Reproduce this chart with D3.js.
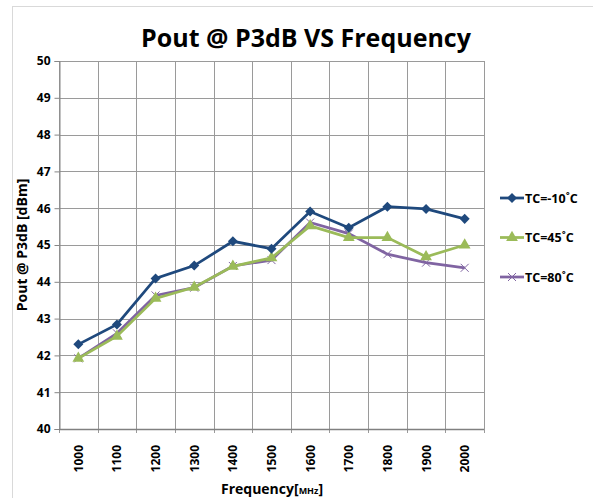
<!DOCTYPE html>
<html>
<head>
<meta charset="utf-8">
<script src="https://cdn.jsdelivr.net/npm/d3@7"></script>
<style>
  body { margin: 0; background: #fff; }
  text { font-family: "Open Sans", "Noto Sans", sans-serif; font-weight: bold; fill: #000; }
</style>
</head>
<body>
<div id="chart"></div>
<script>
// data
var freqs = ["1000", "1100", "1200", "1300", "1400", "1500", "1600", "1700", "1800", "1900", "2000"]
var tcMinus10 = [42.30, 42.84, 44.09, 44.44, 45.10, 44.90, 45.91, 45.47, 46.04, 45.98, 45.71]
var tc45 = [41.92, 42.52, 43.55, 43.85, 44.42, 44.65, 45.52, 45.20, 45.20, 44.68, 45.00]
var tc80 = [41.92, 42.60, 43.63, 43.84, 44.43, 44.59, 45.61, 45.31, 44.75, 44.52, 44.38]
var yTicks = [40, 41, 42, 43, 44, 45, 46, 47, 48, 49, 50]

var series = [
    {name: "TC=-10˚C", values: tcMinus10, color: "#1f497d", marker: "diamond"},
    {name: "TC=45˚C", values: tc45, color: "#9bbb59", marker: "triangle"},
    {name: "TC=80˚C", values: tc80, color: "#8064a2", marker: "cross"}
]

var W = 593, H = 498
var margin = {top: 61, left: 59, right: 109, bottom: 69}

var svg = d3.select("#chart").append("svg")
    .attr("width", W)
    .attr("height", H)

// chart frame (only left/top visible)
svg.append("rect")
    .attr("x", 12.5).attr("y", 6.5)
    .attr("width", W + 20).attr("height", H + 20)
    .attr("fill", "none")
    .attr("stroke", "#d9d9d9")

var x = d3.scaleBand()
    .domain(freqs)
    .range([margin.left, W - margin.right])

var y = d3.scaleLinear()
    .domain([40, 50])
    .range([H - margin.bottom, margin.top])

// grid
var grid = svg.append("g")
grid.selectAll(".hg")
    .data(yTicks)
    .enter().append("line")
        .attr("x1", margin.left).attr("x2", W - margin.right)
        .attr("y1", d => Math.round(y(d)) + 0.5).attr("y2", d => Math.round(y(d)) + 0.5)
        .attr("stroke", "#9a9a9a")
var bounds = freqs.map(f => x(f)).concat([x.range()[1]])
grid.selectAll(".vg")
    .data(bounds)
    .enter().append("line")
        .attr("x1", d => Math.round(d) + 0.5).attr("x2", d => Math.round(d) + 0.5)
        .attr("y1", margin.top).attr("y2", H - margin.bottom + 4)
        .attr("stroke", "#9a9a9a")

// y axis
var yAxis = svg.append("g")
    .attr("transform", "translate(" + (margin.left + 0.5) + ",0)")
    .call(d3.axisLeft(y).tickValues(yTicks).tickSize(5).tickPadding(4))
yAxis.select(".domain").attr("stroke", "#868686")
yAxis.selectAll(".tick line").attr("stroke", "#868686")
yAxis.selectAll("text").style("font-size", "12px").attr("font-family", "Open Sans")

// bottom axis line
svg.append("line")
    .attr("x1", margin.left).attr("x2", W - margin.right)
    .attr("y1", Math.round(y(40)) + 0.5).attr("y2", Math.round(y(40)) + 0.5)
    .attr("stroke", "#808080").attr("stroke-width", 1.5)

// x tick labels, rotated
svg.append("g").selectAll("text")
    .data(freqs)
    .enter().append("text")
        .attr("transform", d => "translate(" + (x(d) + x.bandwidth() / 2 + 4.5) + "," + (y(40) + 16) + ") rotate(-90)")
        .attr("text-anchor", "end")
        .style("font-size", "12px")
        .text(d => d)

// axis titles
var xt = svg.append("text")
    .attr("x", 272)
    .attr("y", 494)
    .attr("text-anchor", "middle")
    .style("font-size", "14px")
xt.append("tspan").text("Frequency[")
xt.append("tspan").style("font-size", "9px").text("MHz")
xt.append("tspan").text("]")

svg.append("text")
    .attr("transform", "translate(27," + ((margin.top + H - margin.bottom) / 2) + ") rotate(-90)")
    .attr("text-anchor", "middle")
    .style("font-size", "14px")
    .text("Pout @ P3dB [dBm]")

// title
svg.append("text")
    .attr("x", 306)
    .attr("y", 47)
    .attr("text-anchor", "middle")
    .style("font-size", "25px")
    .text("Pout @ P3dB VS Frequency")

// lines
var line = d3.line()
    .x((d, i) => x(freqs[i]) + x.bandwidth() / 2)
    .y(d => y(d))

function drawMarker(g, type, color, cx, cy) {
    if (type === "diamond") {
        g.append("path")
            .attr("d", d3.symbol().type(d3.symbolDiamond2).size(64)())
            .attr("transform", "translate(" + cx + "," + cy + ")")
            .attr("fill", color)
    } else if (type === "triangle") {
        g.append("path")
            .attr("d", d3.symbol().type(d3.symbolTriangle).size(60)())
            .attr("transform", "translate(" + cx + "," + cy + ")")
            .attr("fill", color)
    } else {
        g.append("path")
            .attr("d", "M-4,-4L4,4M-4,4L4,-4")
            .attr("transform", "translate(" + cx + "," + cy + ")")
            .attr("stroke", color)
            .attr("stroke-width", 1)
            .attr("fill", "none")
    }
}

var plot = svg.append("g")
series.slice().reverse().forEach(function(s) {
    var g = plot.append("g")
    g.append("path")
        .datum(s.values)
        .attr("d", line)
        .attr("fill", "none")
        .attr("stroke", s.color)
        .attr("stroke-width", 2.75)
    s.values.forEach(function(v, i) {
        drawMarker(g, s.marker, s.color, x(freqs[i]) + x.bandwidth() / 2, y(v))
    })
})

// legend
var legend = svg.append("g")
series.forEach(function(s, i) {
    var ly = 198 + i * 39.5
    legend.append("line")
        .attr("x1", 500).attr("x2", 524)
        .attr("y1", ly).attr("y2", ly)
        .attr("stroke", s.color)
        .attr("stroke-width", 2.75)
    drawMarker(legend, s.marker, s.color, 512, ly)
    legend.append("text")
        .attr("x", 525)
        .attr("y", ly + 4.5)
        .style("font-size", "12.5px")
        .text(s.name)
})
</script>
</body>
</html>
